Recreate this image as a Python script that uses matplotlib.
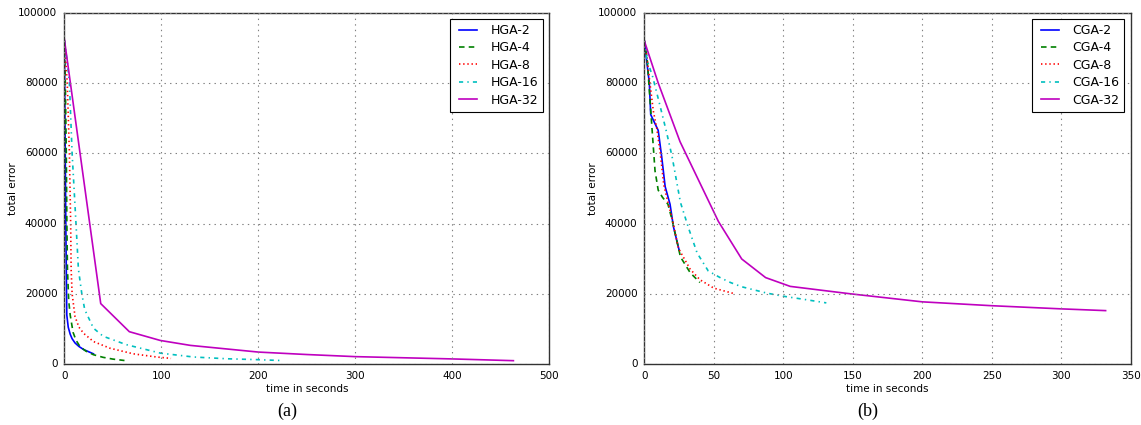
import matplotlib
matplotlib.use('Agg')
from matplotlib import pyplot as plt

# (a) HGA runs: time in seconds / total error
hga2_t = [0, 1.5, 2.5, 4, 6, 8, 11, 15, 20, 25, 30]
hga2_e = [92000, 40000, 14000, 10500, 8500, 7200, 6000, 5000, 4100, 3500, 2900]
hga4_t = [0, 1, 2, 2.6, 3.2, 4.5, 6, 9, 12, 16, 22, 30, 40, 50, 62]
hga4_e = [92000, 80000, 60000, 40000, 27000, 18000, 14000, 9000, 6800, 5000, 3700, 2650, 1900, 1400, 1000]
hga8_t = [0, 3, 5.2, 6.5, 7, 8, 11, 15, 20, 30, 47, 71, 95, 110]
hga8_e = [92000, 80000, 60000, 40000, 27000, 20000, 13500, 10500, 8700, 6400, 4500, 2900, 2000, 1600]
hga16_t = [0, 3, 5.2, 8, 12, 14.5, 18, 21, 30, 40, 64, 99, 133, 167, 198, 223]
hga16_e = [92000, 86000, 80000, 60000, 40000, 27000, 20000, 15500, 10200, 7900, 5500, 3100, 2000, 1500, 1250, 1000]
hga32_t = [0, 37.5, 67, 99, 130, 200, 250, 300, 400, 463]
hga32_e = [92500, 17200, 9200, 6700, 5300, 3400, 2700, 2100, 1450, 950]

# (b) CGA runs
cga2_t = [0, 3.6, 4.6, 10, 12.5, 15, 18.5, 21, 25]
cga2_e = [92000, 80000, 71000, 66500, 59000, 50500, 45500, 39000, 32500]
cga4_t = [0, 2, 5, 7.7, 10, 13, 17, 20, 26, 33, 40]
cga4_e = [92000, 87000, 70000, 55000, 49500, 47500, 45500, 41000, 30500, 26000, 23200]
cga8_t = [0, 2, 4, 6.5, 9, 11.5, 14, 17, 20, 24.5, 28, 33, 40, 50, 65]
cga8_e = [92000, 87000, 80000, 72000, 67000, 60000, 51000, 46000, 41500, 33000, 30500, 27000, 24000, 21600, 20000]
cga16_t = [0, 2, 6, 11, 16, 20, 26, 32, 38, 46, 55, 62, 70, 79, 88, 100, 115, 131]
cga16_e = [92000, 86500, 81800, 74000, 66000, 59000, 46000, 38500, 31600, 26500, 24500, 23200, 22000, 21100, 20200, 19300, 18400, 17400]
cga32_t = [0, 10, 25.7, 53.3, 70.1, 87.3, 105, 148, 200, 250, 300, 332]
cga32_e = [92000, 80000, 63300, 40600, 29900, 24600, 22100, 20000, 17700, 16600, 15700, 15200]

# colour and dash pattern per run (None = solid)
styles = [('b', None), ('g', (0, (4, 3))), ('r', (0, (1, 2))), ('c', (0, (3, 3, 1, 3))), ('m', None)]
sizes = [2, 4, 8, 16, 32]

plt.style.use('classic')
plt.rcParams['lines.scale_dashes'] = False
fig = plt.figure(figsize=(11.41, 4.25), dpi=100)
fig.patch.set_facecolor('white')


def draw_panel(ax, runs, prefix, xmax, xstep, tag, tag_x):
    for (t, e), (col, ls), n in zip(runs, styles, sizes):
        ax.plot(t, e, color=col, linestyle=ls if ls else '-', linewidth=1.2,
                label='%s-%d' % (prefix, n))
    ax.set_xlim(0, xmax)
    ax.set_ylim(0, 100000)
    ax.set_xticks(range(0, xmax + 1, xstep))
    ax.set_yticks(range(0, 100001, 20000))
    ax.grid(True, color='0.5', linestyle=':', linewidth=0.8)
    ax.tick_params(labelsize=7.5, length=0, pad=5)
    for s in ax.spines.values():
        s.set_color('0.2')
    ax.set_xlabel('time in seconds', fontsize=7.5, labelpad=2)
    ax.set_ylabel('total error', fontsize=7.5, labelpad=0)
    leg = ax.legend(loc='upper right', fontsize=9, handlelength=2.0, borderaxespad=0.5,
                    labelspacing=0.35, fancybox=False)
    leg.get_frame().set_linewidth(0.8)
    fig.text(tag_x, 0.032, tag, fontsize=13, family='Liberation Serif', ha='center', va='center')


ax1 = fig.add_axes([0.0564, 0.1435, 0.4250, 0.8265])
draw_panel(ax1, [(hga2_t, hga2_e), (hga4_t, hga4_e), (hga8_t, hga8_e), (hga16_t, hga16_e), (hga32_t, hga32_e)],
           'HGA', 500, 100, '(a)', 0.2515)

ax2 = fig.add_axes([0.5647, 0.1435, 0.4262, 0.8265])
draw_panel(ax2, [(cga2_t, cga2_e), (cga4_t, cga4_e), (cga8_t, cga8_e), (cga16_t, cga16_e), (cga32_t, cga32_e)],
           'CGA', 350, 50, '(b)', 0.7605)

plt.savefig('out.png', dpi=100, facecolor='white')
